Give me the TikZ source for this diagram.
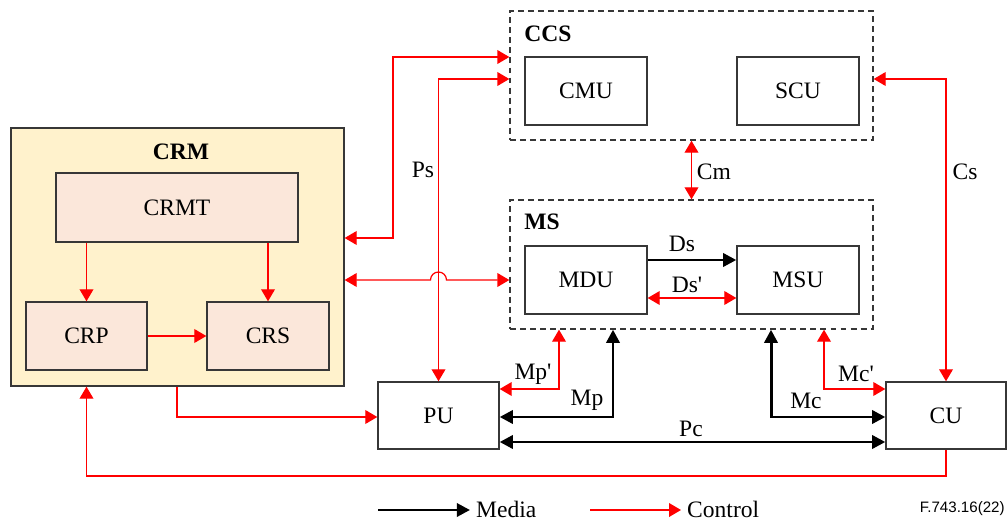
\documentclass[tikz,border=0pt]{standalone}
\usepackage{fontspec}
\setmainfont{Liberation Serif}
\newfontfamily\figsans{Liberation Sans}
\usetikzlibrary{arrows.meta,calc}
\definecolor{crmfill}{RGB}{255,242,204}
\definecolor{subfill}{RGB}{251,231,218}
\definecolor{boxline}{RGB}{55,55,55}
\definecolor{ctrlred}{RGB}{255,0,0}

\begin{document}
\begin{tikzpicture}[x=0.02cm, y=-0.02cm,
    font=\fontsize{13.4}{16}\selectfont,
    unit/.style={draw=boxline, line width=0.8pt, minimum width=2.44cm, minimum height=1.36cm, inner sep=0pt},
    group/.style={draw=boxline, line width=0.8pt, dash pattern=on 3.4pt off 2.3pt, minimum width=7.26cm, minimum height=2.58cm, inner sep=0pt},
    title/.style={font=\fontsize{13.4}{16}\selectfont\bfseries, inner sep=0pt},
    lbl/.style={inner sep=0pt},
    ctrl/.style={draw=ctrlred, line width=0.7pt, >={Triangle[length=6.8pt,width=7.8pt]}},
    media/.style={draw=black, line width=1.7pt, >={Triangle[length=7.5pt,width=7.5pt]}}]
    \useasboundingbox (0,0) rectangle (1008,520);

    % CRM block
    \node [fill=crmfill, draw=boxline, line width=0.8pt, minimum width=6.66cm, minimum height=5.16cm] (CRM) at (177.5,257) {};
    \node [title] (tCRM) at (181,152) {CRM};
    \node [unit, fill=subfill, minimum width=4.84cm, minimum height=1.38cm] (CRMT) at (177,207.5) {CRMT};
    \node [unit, fill=subfill, minimum width=2.42cm] (CRP) at (86.5,336) {CRP};
    \node [unit, fill=subfill] (CRS) at (268,336) {CRS};

    % CCS and MS groups
    \node [group] (CCS) at (691.5,75.5) {};
    \node [title, anchor=west] (tCCS) at (524,34) {CCS};
    \node [unit] (CMU) at (586,91) {CMU};
    \node [unit] (SCU) at (798,91) {SCU};
    \node [group] (MS) at (691.5,264.5) {};
    \node [title, anchor=west] (tMS) at (524,222) {MS};
    \node [unit] (MDU) at (586,280) {MDU};
    \node [unit] (MSU) at (798,280) {MSU};

    % PU and CU
    \node [unit, minimum width=2.42cm, minimum height=1.34cm] (PU) at (438.5,415.5) {PU};
    \node [unit, minimum width=2.40cm, minimum height=1.34cm] (CU) at (946,415.5) {CU};

    % Inside CRM
    \draw [ctrl, ->] (CRMT.south -| CRP) -- (CRP.north);
    \draw [ctrl, ->] (CRMT.south -| CRS) -- (CRS.north);
    \draw [ctrl, ->] (CRP.east) -- (CRS.west);

    % CRM to CCS, CRM to MS (with jump over Ps)
    \draw [ctrl, <->] (CRM.east |- 0,238) -| (393,57) -- (CCS.west |- 0,57);
    \draw [ctrl, <->] (CRM.east |- MDU) -- ($(PU.north |- MDU)+(-8,0)$)
        arc [start angle=180, end angle=360, radius=8] -- (MS.west |- MDU);

    % Ps, Cm, Cs
    \draw [ctrl, <->] (CCS.west |- 0,79) -| (PU.north);
    \node [lbl] (lPs) at (423,170) {Ps};
    \draw [ctrl, <->] (CCS.south) -- (MS.north);
    \node [lbl] (lCm) at (714,172) {Cm};
    \draw [ctrl, <->] (CCS.east |- 0,79) -| (CU.north);
    \node [lbl] (lCs) at (965,172) {Cs};

    % Ds, Ds'
    \draw [media, ->] (MDU.east |- 0,260) -- (MSU.west |- 0,260);
    \node [lbl] (lDs) at (682,244) {Ds};
    \draw [ctrl, <->] (MDU.east |- 0,298) -- (MSU.west |- 0,298);
    \node [lbl] (lDsp) at (687,285) {Ds\textquotesingle};

    % CRM to PU
    \draw [ctrl, ->] (CRM.south -| CRMT) |- (PU.west |- 0,417);

    % Mp', Mp, Mc, Mc', Pc
    \draw [ctrl, <->] (PU.east |- 0,389) -| (MS.south -| 559,0);
    \node [lbl] (lMpp) at (533,374) {Mp\textquotesingle};
    \draw [media, <->] (PU.east |- 0,417) -| (MS.south -| 613,0);
    \node [lbl] (lMp) at (587,400) {Mp};
    \draw [media, <->] (MS.south -| 771,0) |- (CU.west |- 0,417);
    \node [lbl] (lMc) at (806,401) {Mc};
    \draw [ctrl, <->] (MS.south -| 824,0) |- (CU.west |- 0,389);
    \node [lbl] (lMcp) at (856,374) {Mc\textquotesingle};
    \draw [media, <->] (PU.east |- 0,442) -- (CU.west |- 0,442);
    \node [lbl] (lPc) at (691,429) {Pc};

    % CU back to CRM
    \draw [ctrl, ->] (CU.south) -- (CU.south |- 0,476) -| (CRM.south -| CRP);

    % Legend
    \coordinate (mediaStart) at (378,510);
    \node [anchor=west] (mediaTxt) at (470,509) {Media};
    \draw [media, ->] (mediaStart) -- (mediaTxt.west |- mediaStart);
    \coordinate (ctrlStart) at (590,510);
    \node [anchor=west] (ctrlTxt) at (681,509) {Control};
    \draw [ctrl, ->] (ctrlStart) -- (ctrlTxt.west |- ctrlStart);
    \node [font=\figsans\fontsize{8.6}{10}\selectfont, anchor=east, inner sep=0pt] (figNo) at (1005,509) {F.743.16(22)};
\end{tikzpicture}
\end{document}
